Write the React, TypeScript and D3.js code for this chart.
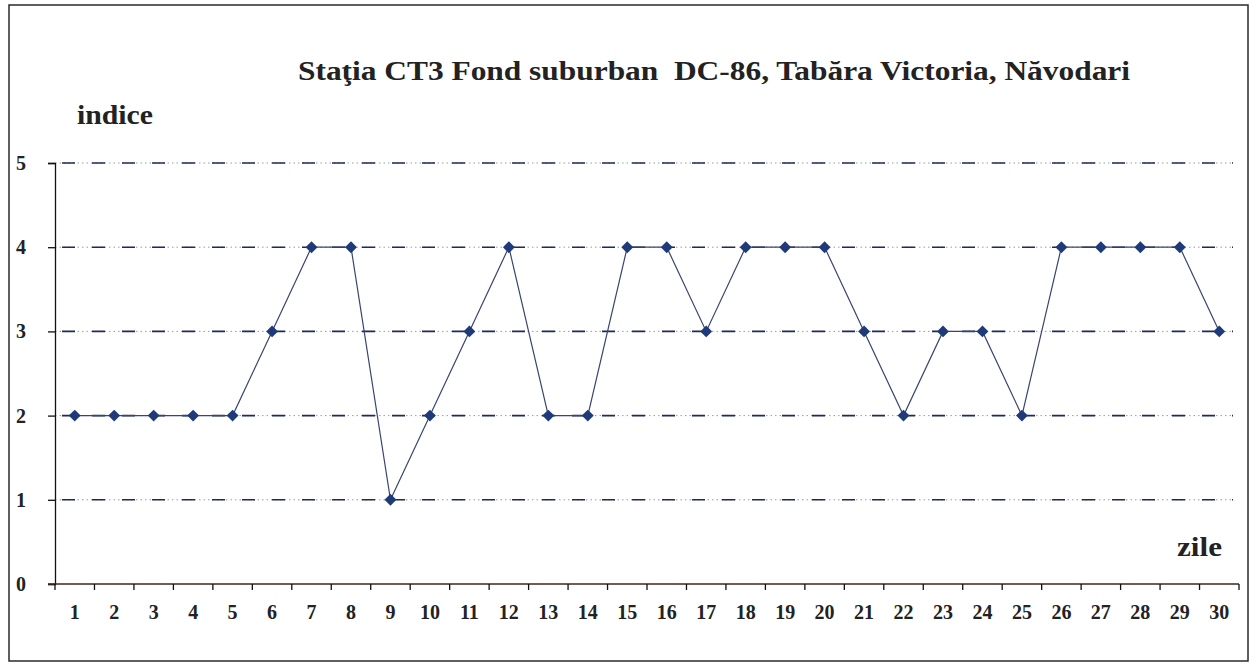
import { useEffect, useRef } from 'react'
import * as d3 from 'd3'

const days = d3.range(1, 31).map(String)
const indexValues = [2, 2, 2, 2, 2, 3, 4, 4, 1, 2, 3, 4, 2, 2, 4, 4, 3, 4, 4, 4, 3, 2, 3, 3, 2, 4, 4, 4, 4, 3]
const yTicks = [0, 1, 2, 3, 4, 5]
const title = 'Staţia CT3 Fond suburban  DC-86, Tabăra Victoria, Năvodari'

const W = 1257
const H = 665
const FONT = '"Liberation Serif", "Times New Roman", serif'

const App = () => {
  const svgRef = useRef<SVGSVGElement>(null)

  useEffect(() => {
    if (!svgRef.current) return
    const svg = d3.select(svgRef.current)
    svg.selectAll('*').remove()

    const x = d3.scaleBand().domain(days).range([55, 1239]).padding(0)
    const y = d3.scaleLinear().domain([0, 5]).range([584, 163])

    // frame
    svg.append('rect')
      .attr('x', 9).attr('y', 5).attr('width', 1239).attr('height', 656)
      .attr('fill', '#fff').attr('stroke', '#2a2a2a').attr('stroke-width', 1.5)

    // gridlines (dash-dot)
    const grid = svg.append('g')
    yTicks.filter(d => d > 0).forEach(t => {
      grid.append('line')
        .attr('x1', 55).attr('x2', 1233).attr('y1', y(t)).attr('y2', y(t))
        .attr('stroke', '#9a9aa8').attr('stroke-width', 1)
        .attr('stroke-dasharray', '1.5 3')
      grid.append('line')
        .attr('x1', 62).attr('x2', 1233).attr('y1', y(t)).attr('y2', y(t))
        .attr('stroke', '#1e2a5a').attr('stroke-width', 1.6)
        .attr('stroke-dasharray', '13 17')
    })

    // y axis
    const yAxis = svg.append('g')
      .attr('transform', 'translate(55,0)')
      .call(d3.axisLeft(y).tickValues(yTicks).tickSize(7).tickPadding(22).tickFormat(d3.format('d')))
    yAxis.select('.domain').attr('stroke', '#111').attr('stroke-width', 1.3)
    yAxis.selectAll('.tick line').attr('stroke', '#111').attr('stroke-width', 1.3)
    yAxis.selectAll('.tick text')
      .attr('font-family', FONT).attr('font-weight', 'bold').attr('font-size', 20).attr('fill', '#222')

    // x axis with ticks at category boundaries
    const xAxisG = svg.append('g').attr('transform', `translate(0,${y(0)})`)
    xAxisG.append('line')
      .attr('x1', 48).attr('x2', 1239).attr('y1', 0).attr('y2', 0)
      .attr('stroke', '#3a2a1a').attr('stroke-width', 1.5)
    const boundaries = days.map(d => x(d) as number).concat([x.range()[1]])
    xAxisG.selectAll('line.tk').data(boundaries).enter().append('line')
      .attr('class', 'tk')
      .attr('x1', d => d).attr('x2', d => d).attr('y1', 0).attr('y2', 6)
      .attr('stroke', '#111').attr('stroke-width', 1.3)
    xAxisG.selectAll('text').data(days).enter().append('text')
      .attr('x', d => (x(d) as number) + x.bandwidth() / 2)
      .attr('y', 35)
      .attr('text-anchor', 'middle')
      .attr('font-family', FONT).attr('font-weight', 'bold').attr('font-size', 20).attr('fill', '#222')
      .text(d => d)

    // series line
    const pts = days.map((d, i) => [(x(d) as number) + x.bandwidth() / 2, y(indexValues[i])] as [number, number])
    svg.append('path')
      .attr('d', d3.line()(pts))
      .attr('fill', 'none').attr('stroke', '#3a4470').attr('stroke-width', 1.2)

    // diamond markers
    const diamond = d3.symbol().type(d3.symbolDiamond2).size(90)
    svg.selectAll('path.mk').data(pts).enter().append('path')
      .attr('class', 'mk')
      .attr('d', diamond() as string)
      .attr('transform', d => `translate(${d[0]},${d[1]})`)
      .attr('fill', '#1f3a78')

    // title and labels
    svg.append('text')
      .attr('x', 298).attr('y', 80)
      .attr('textLength', 832).attr('lengthAdjust', 'spacingAndGlyphs')
      .style('white-space', 'pre')
      .attr('font-family', FONT).attr('font-weight', 'bold').attr('font-size', 27).attr('fill', '#222')
      .text(title)
    svg.append('text')
      .attr('x', 77).attr('y', 124)
      .attr('textLength', 76).attr('lengthAdjust', 'spacingAndGlyphs')
      .attr('font-family', FONT).attr('font-weight', 'bold').attr('font-size', 27).attr('fill', '#222')
      .text('indice')
    svg.append('text')
      .attr('x', 1177).attr('y', 556)
      .attr('textLength', 45).attr('lengthAdjust', 'spacingAndGlyphs')
      .attr('font-family', FONT).attr('font-weight', 'bold').attr('font-size', 27).attr('fill', '#222')
      .text('zile')
  }, [])

  return (
    <svg
      ref={svgRef}
      width={W}
      height={H}
      style={{ position: 'fixed', left: 0, top: 0, display: 'block', background: '#fff' }}
    />
  )
}

export default App
